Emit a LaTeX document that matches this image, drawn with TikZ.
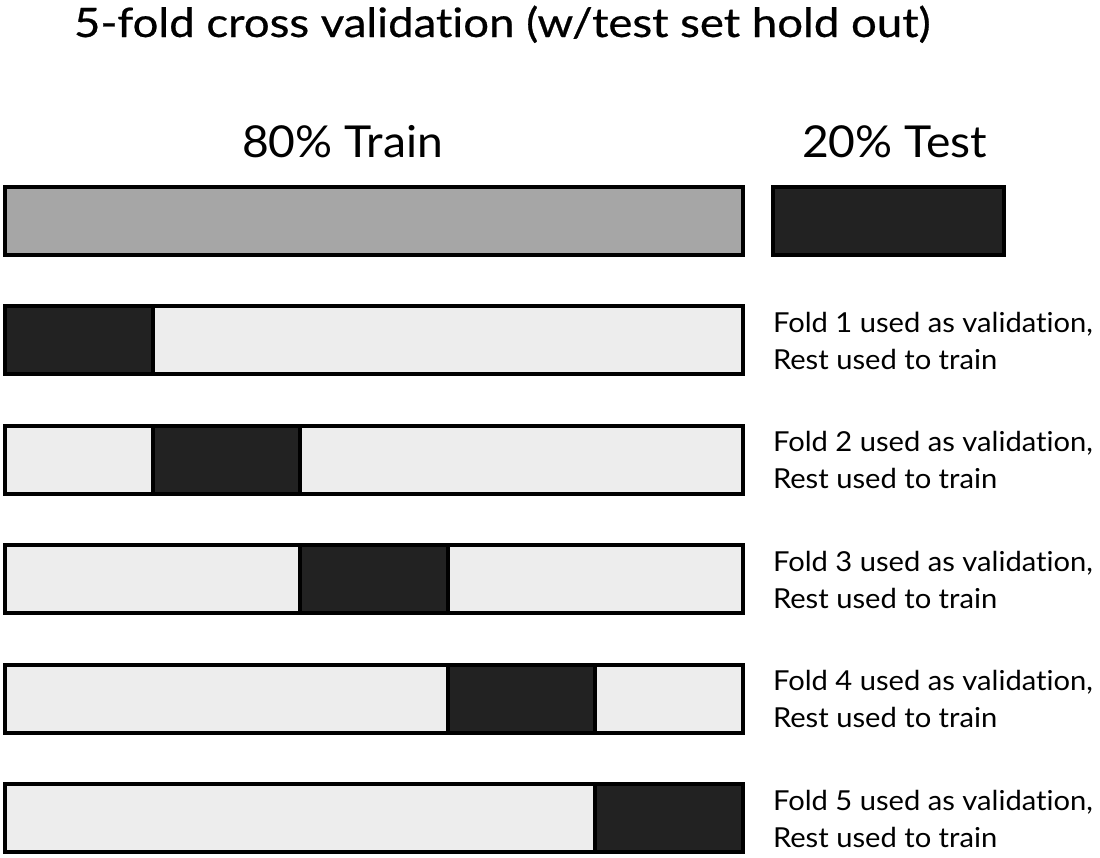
\documentclass[tikz,border=0pt]{standalone}
\usepackage{fontspec}
\setmainfont{Lato}[Ligatures=NoCommon]
\newfontfamily\titlefont{Lato}[Ligatures=NoCommon, FakeBold=0.6, FakeStretch=1.125]
\newfontfamily\headfont{Lato}[Ligatures=NoCommon, FakeStretch=1.05]
\newfontfamily\notefont{Lato}[Ligatures=NoCommon, FakeStretch=1.06]
\usetikzlibrary{positioning}

\definecolor{traingray}{HTML}{A6A6A6}
\definecolor{foldgray}{HTML}{EDEDED}
\definecolor{blockdark}{HTML}{222222}

\begin{document}
\begin{tikzpicture}[x=1pt, y=-1pt, line width=4pt,
  bar/.style={draw=black, inner sep=0pt, outer sep=0pt, anchor=north west, minimum height=68pt},
  trainbar/.style={bar, fill=traingray, minimum width=738pt},
  testbar/.style={bar, fill=blockdark, minimum width=231pt},
  foldbar/.style={bar, fill=foldgray, minimum width=738pt},
  valblock/.style={bar, fill=blockdark, minimum width=147.6pt},
  headlabel/.style={anchor=base west, inner sep=0pt, font=\headfont\fontsize{44}{50}\selectfont},
  foldlabel/.style={anchor=base west, inner sep=0pt, font=\notefont\fontsize{27.5}{33}\selectfont}]
\useasboundingbox (0,0) rectangle (1100,857);

% Title
\node[anchor=base west, inner sep=0pt, font=\titlefont\fontsize{40.5}{46}\selectfont] (title) at (72,37) {5-fold cross validation (w/test set hold out)};

% Train / test split
\node[trainbar] (train) at (5,187) {};
\node[testbar] (test) at (773,187) {};
\node[headlabel] (trainlabel) at (240,157) {80\% Train};
\node[headlabel] (testlabel) at (800,157) {20\% Test};

% The five folds
\foreach \i in {1,...,5} {
  \pgfmathsetmacro{\rowy}{306+119.5*(\i-1)}
  \pgfmathsetmacro{\valx}{5+147.6*(\i-1)}
  \node[foldbar] (fold\i) at (5,\rowy) {};
  \node[valblock] (val\i) at (\valx,\rowy) {};
  \node[foldlabel] (note\i) at (771,\rowy+26) {Fold \i\ used as validation,};
  \node[foldlabel] (rest\i) at (771,\rowy+63) {Rest used to train};
}
\end{tikzpicture}
\end{document}
